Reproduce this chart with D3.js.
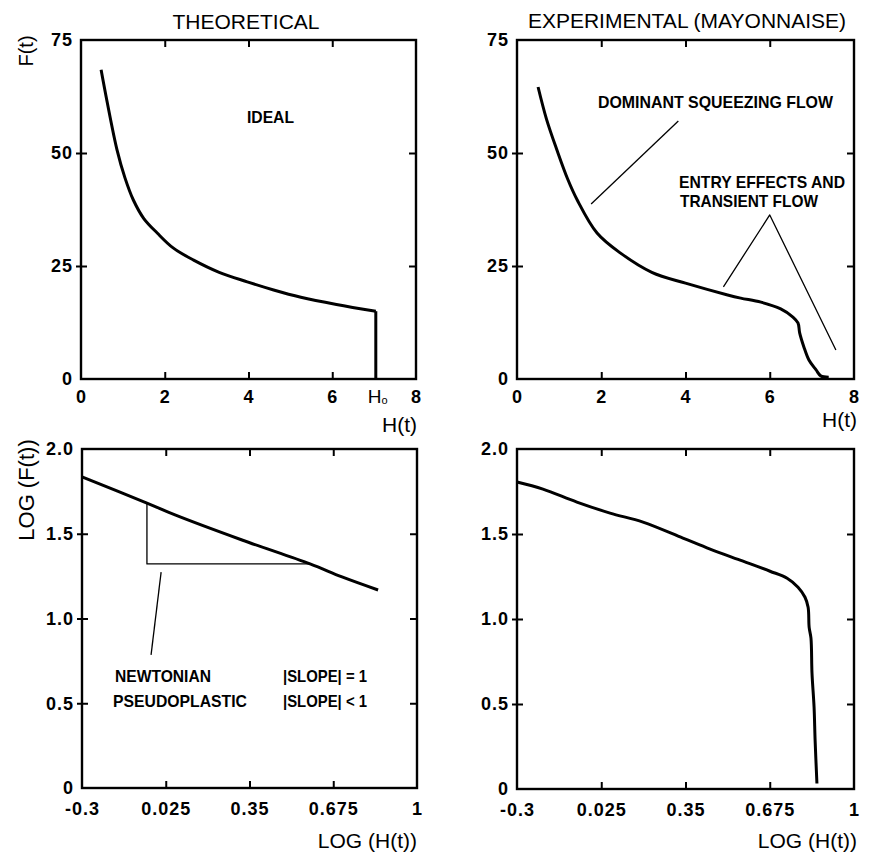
<!DOCTYPE html>
<html>
<head>
<meta charset="utf-8">
<script src="https://cdn.jsdelivr.net/npm/d3@7"></script>
<style>
  body { margin: 0; background: #fff; }
  svg { font-family: "Liberation Sans", Arial, Helvetica, sans-serif; }
  .tick line { stroke: #000; stroke-width: 2; }
  .note { font-size: 17px; font-weight: bold; }
</style>
</head>
<body>
<script>
// F(t) contre H(t), theorique (ideal)
const theoH = [0.48, 0.62, 0.86, 1.05, 1.25, 1.5, 1.82, 2.2, 2.69, 3.3, 3.97, 4.6, 5.25, 6.1, 7.04, 7.04]
const theoF = [68.4, 61.5, 50.7, 44.5, 39.6, 35.5, 32.3, 29.0, 26.3, 23.6, 21.5, 19.7, 18.1, 16.5, 15.0, 0]

// F(t) contre H(t), mayonnaise
const expH = [0.5, 0.7, 0.95, 1.2, 1.43, 1.9, 2.45, 3.2, 4.0, 5.0, 5.31, 5.79, 6.26, 6.55, 6.67, 6.71, 6.81, 6.93, 7.10, 7.21, 7.40]
const expF = [64.6, 57.5, 50.6, 44.3, 39.6, 32.3, 27.9, 23.6, 21.2, 18.6, 17.9, 17.0, 15.5, 13.7, 12.4, 10.2, 7.1, 4.2, 2.0, 0.7, 0.4]

// log-log
const logTheoH = [-0.3, -0.048, 0.061, 0.321, 0.585, 0.709, 0.849]
const logTheoF = [1.835, 1.681, 1.611, 1.463, 1.322, 1.245, 1.168]
const logExpH = [-0.3, -0.2, -0.069, 0.059, 0.186, 0.340, 0.445, 0.572, 0.676, 0.742, 0.784, 0.811, 0.823, 0.827, 0.834, 0.838, 0.846, 0.85, 0.857]
const logExpF = [1.806, 1.764, 1.688, 1.623, 1.570, 1.476, 1.411, 1.340, 1.281, 1.240, 1.187, 1.128, 1.069, 0.951, 0.887, 0.680, 0.480, 0.286, 0.032]

// triangle de pente + fleche
const slopeH = [-0.048, -0.048, 0.585]
const slopeF = [1.681, 1.322, 1.322]
const pointerH = [0.007, -0.032]
const pointerF = [1.274, 0.785]

// fleches des annotations (mayonnaise)
const squeezeH = [3.83, 1.76]
const squeezeF = [57.1, 38.7]
const entryH = [4.9, 6.0, 7.57]
const entryF = [20.4, 36.3, 6.4]

// graduations
const linTicksX = [0, 2, 4, 6, 8]
const linTicksY = [0, 25, 50, 75]
const logTicksX = [-0.3, 0.025, 0.35, 0.675, 1]
const logTicksY = [0, 0.5, 1, 1.5, 2]
const logXLabels = ['-0.3', '0.025', '0.35', '0.675', '1']
const logYLabels = ['0', '0.5', '1.0', '1.5', '2.0']

const svg = d3.select('body').append('svg')
  .attr('width', 869)
  .attr('height', 855)

const zip = (a, b) => a.map((v, i) => [v, b[i]])

// style des chiffres des graduations
const tickText = a => a.selectAll('.tick text')
  .attr('font-family', '"Liberation Sans", Arial, sans-serif')
  .attr('font-size', 18)
  .attr('font-weight', 'bold')
  .attr('letter-spacing', 1)
  .attr('fill', '#000')

function panel(box, xDom, yDom, xTicks, yTicks, xFmt, yFmt, xPad) {
  const g = svg.append('g').attr('transform', `translate(${box.left},${box.top})`)
  const x = d3.scaleLinear().domain(xDom).range([0, box.w])
  const y = d3.scaleLinear().domain(yDom).range([box.h, 0])

  const inner = yTicks.filter(d => d !== yDom[0] && d !== yDom[1])
  const innerX = xTicks.filter(d => d !== xDom[0] && d !== xDom[1])

  g.append('g').attr('transform', `translate(0,${box.h})`)
    .call(d3.axisBottom(x).tickValues(xTicks).tickFormat(xFmt).tickSizeInner(-7).tickSizeOuter(0).tickPadding(xPad))
    .call(a => a.select('.domain').remove())
    .call(a => a.selectAll('.tick').filter(d => !innerX.includes(d)).select('line').remove())
    .call(tickText)

  g.append('g')
    .call(d3.axisTop(x).tickValues(innerX).tickFormat('').tickSizeInner(-7).tickSizeOuter(0))
    .call(a => a.select('.domain').remove())

  g.append('g')
    .call(d3.axisLeft(y).tickValues(yTicks).tickFormat(yFmt).tickSizeInner(-6).tickSizeOuter(0).tickPadding(8))
    .call(a => a.select('.domain').remove())
    .call(a => a.selectAll('.tick').filter(d => !inner.includes(d)).select('line').remove())
    .call(a => a.selectAll('.tick line').attr('x1', -5))
    .call(tickText)

  g.append('g').attr('transform', `translate(${box.w},0)`)
    .call(d3.axisRight(y).tickValues(inner).tickFormat('').tickSizeInner(-7).tickSizeOuter(0))
    .call(a => a.select('.domain').remove())

  g.append('rect')
    .attr('width', box.w).attr('height', box.h)
    .attr('fill', 'none').attr('stroke', '#000').attr('stroke-width', 2.4)

  return { g, x, y }
}

function curve(p, xs, ys, width, smooth) {
  p.g.append('path')
    .datum(zip(xs, ys))
    .attr('fill', 'none')
    .attr('stroke', '#000')
    .attr('stroke-width', width)
    .attr('stroke-linejoin', 'round')
    .attr('d', d3.line()
      .curve(smooth ? d3.curveCatmullRom.alpha(0.5) : d3.curveLinear)
      .x(d => p.x(d[0])).y(d => p.y(d[1])))
}

function note(p, x, y, str, len) {
  p.g.append('text').attr('class', 'note')
    .attr('x', x).attr('y', y)
    .attr('textLength', len).attr('lengthAdjust', 'spacingAndGlyphs')
    .text(str)
}

function text(x, y, str, size, anchor) {
  return svg.append('text')
    .attr('x', x).attr('y', y)
    .attr('font-size', size)
    .attr('text-anchor', anchor || 'start')
    .text(str)
}

/*
* Panneau haut gauche : theorique
*/
const tl = panel({ left: 81, top: 40, w: 335, h: 339 }, [0, 8], [0, 75], linTicksX, linTicksY,
  d => String(d), d => String(d), 11)
curve(tl, theoH.slice(0, -1), theoF.slice(0, -1), 3, true)
curve(tl, theoH.slice(-2), theoF.slice(-2), 3, false)
tl.g.append('text')
  .attr('x', tl.x(theoH[theoH.length - 1]) + 2)
  .attr('y', 363)
  .attr('text-anchor', 'middle')
  .attr('font-size', 19)
  .text('H')
  .append('tspan').attr('font-size', 11).attr('dy', 1).text('o')
note(tl, 166, 83, 'IDEAL', 47)

/*
* Panneau haut droit : mayonnaise
*/
const tr = panel({ left: 517, top: 40, w: 337, h: 339 }, [0, 8], [0, 75], linTicksX, linTicksY,
  d => String(d), d => String(d), 11)
curve(tr, expH, expF, 3, true)
curve(tr, squeezeH, squeezeF, 1.3, false)
curve(tr, entryH, entryF, 1.3, false)
note(tr, 81, 68, 'DOMINANT SQUEEZING FLOW', 235)
note(tr, 162, 148, 'ENTRY EFFECTS AND', 166)
note(tr, 163, 167, 'TRANSIENT FLOW', 138)

/*
* Panneau bas gauche : log theorique
*/
const bl = panel({ left: 82, top: 449, w: 335, h: 339 }, [-0.3, 1], [0, 2], logTicksX, logTicksY,
  (d, i) => logXLabels[i], (d, i) => logYLabels[i], 14)
curve(bl, logTheoH, logTheoF, 3, true)
curve(bl, slopeH, slopeF, 1.3, false)
curve(bl, pointerH, pointerF, 1.3, false)
note(bl, 33, 233, 'NEWTONIAN', 96)
note(bl, 31, 258, 'PSEUDOPLASTIC', 134)
note(bl, 201, 233, '|SLOPE| = 1', 84)
note(bl, 201, 258, '|SLOPE| < 1', 84)

/*
* Panneau bas droit : log mayonnaise
*/
const br = panel({ left: 517, top: 449, w: 337, h: 340 }, [-0.3, 1], [0, 2], logTicksX, logTicksY,
  (d, i) => logXLabels[i], (d, i) => logYLabels[i], 14)
curve(br, logExpH, logExpF, 3, true)

/*
* Titres et noms d'axes
*/
text(246, 29, 'THEORETICAL', 21, 'middle')
text(687, 28, 'EXPERIMENTAL (MAYONNAISE)', 21, 'middle')
text(417, 432, 'H(t)', 21, 'end')
text(857, 427, 'H(t)', 21, 'end')
text(417, 848, 'LOG (H(t))', 21, 'end')
text(857, 848, 'LOG (H(t))', 21, 'end')
svg.append('text').attr('transform', 'translate(33,51) rotate(-90)')
  .attr('font-size', 20).attr('text-anchor', 'middle').text('F(t)')
svg.append('text').attr('transform', 'translate(34,490) rotate(-90)')
  .attr('font-size', 22).attr('text-anchor', 'middle').text('LOG (F(t))')
</script>
</body>
</html>
